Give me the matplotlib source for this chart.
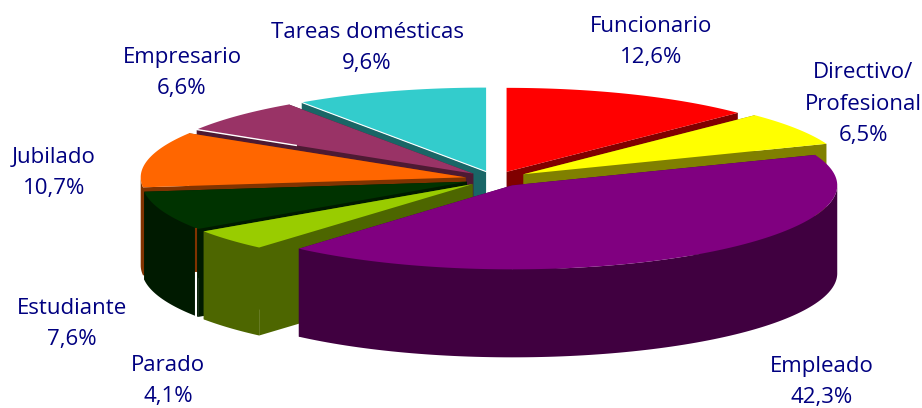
import matplotlib
matplotlib.use("Agg")
import matplotlib.pyplot as plt
import numpy as np

plt.rcParams["font.family"] = ["Open Sans", "DejaVu Sans"]

# data, clockwise from 12 o'clock
categories = ["Funcionario", "Directivo/\nProfesional", "Empleado", "Parado",
              "Estudiante", "Jubilado", "Empresario", "Tareas domésticas"]
shares = [12.6, 6.5, 42.3, 4.1, 7.6, 10.7, 6.6, 9.6]
value_labels = ["12,6%", "6,5%", "42,3%", "4,1%", "7,6%", "10,7%", "6,6%", "9,6%"]
top_colors = ["#FF0000", "#FFFF00", "#800080", "#99CC00",
              "#003300", "#FF6600", "#993366", "#33CCCC"]
wall_colors = ["#800000", "#808000", "#400040", "#4D6600",
               "#001A00", "#803300", "#4D1A33", "#196666"]

# pie geometry in pixels
CX, CY = 495, 179
RX, RY = 325, 84
DEPTH = 88
explode = [30, 34, 30, 30, 30, 30, 30, 30]

# back slices first so the front ones cover them
draw_order = [7, 6, 0, 1, 5, 4, 3, 2]

# label centre positions in pixels
label_pos = [(651, 42), (863, 104), (822, 382), (168, 381),
             (72, 324), (54, 173), (182, 73), (367, 48)]

fig = plt.figure(figsize=(9.22, 4.08), dpi=100)
ax = fig.add_axes([0, 0, 1, 1])
ax.set_xlim(0, 922)
ax.set_ylim(408, 0)
ax.axis("off")

edges = np.cumsum([0] + shares) / sum(shares) * 2 * np.pi


def point(theta, ox, oy):
    return ox + RX * np.sin(theta), oy - RY * np.cos(theta)


for i in draw_order:
    start, end = edges[i], edges[i + 1]
    mid = (start + end) / 2
    ox = CX + explode[i] * np.sin(mid)
    oy = CY - explode[i] * RY / RX * np.cos(mid)
    theta = np.linspace(start, end, 120)
    arc_x, arc_y = point(theta, ox, oy)

    # the two cut faces
    for t in (start, end):
        tx, ty = point(t, ox, oy)
        ax.fill([ox, tx, tx, ox], [oy, ty, ty + DEPTH, oy + DEPTH],
                color=wall_colors[i], lw=0)

    # outer wall, only the part facing the viewer
    front = (theta > np.pi / 2) & (theta < 3 * np.pi / 2)
    if front.any():
        fx, fy = arc_x[front], arc_y[front]
        ax.fill(np.r_[fx, fx[::-1]], np.r_[fy, fy[::-1] + DEPTH],
                color=wall_colors[i], lw=0)

    # top face
    ax.fill(np.r_[ox, arc_x], np.r_[oy, arc_y], color=top_colors[i], lw=0)

    # thin light seams the original shows along some slice edges
    tx, ty = point(start, ox, oy)
    if i == 7:
        ax.plot([tx, ox], [ty, oy], color="white", lw=0.8)
    if i == 6:
        ax.plot([tx, tx + 0.36 * (ox - tx)], [ty, ty + 0.36 * (oy - ty)],
                color="white", lw=1.0)
    if i == 4:
        ax.plot([tx - 2, tx - 2], [ty, ty + 0.5 * DEPTH], color=wall_colors[5], lw=1.5)
        ax.plot([tx - 2, tx - 2], [ty + 0.5 * DEPTH, ty + DEPTH], color="white", lw=1.5)

for name, val, (x, y) in zip(categories, value_labels, label_pos):
    ax.text(x, y, name + "\n" + val, ha="center", va="center", fontsize=16,
            color="#000080", linespacing=1.65)

fig.savefig("out.png", dpi=100)
